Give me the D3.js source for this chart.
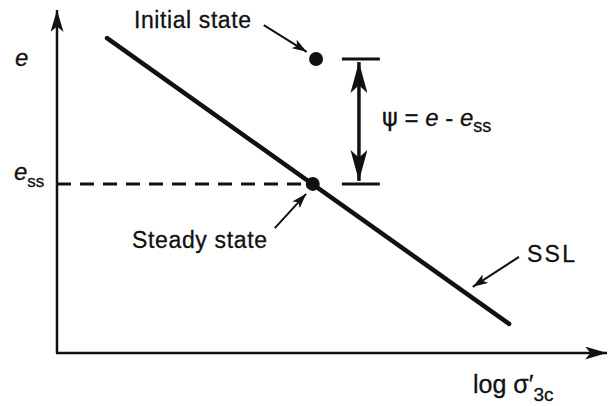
<!DOCTYPE html>
<html><head><meta charset="utf-8">
<script src="https://cdn.jsdelivr.net/npm/d3@7"></script>
<style>
html,body{margin:0;padding:0;background:#fff;}
text{font-family:"Liberation Sans",Arial,Helvetica,sans-serif;fill:#111;stroke:#111;stroke-width:0.3;}
</style></head>
<body>
<svg id="c" width="609" height="406"></svg>
<script>
// conceptual units: x = log σ'3c, y = void ratio e (0..100 arbitrary)
const xDomain = [0, 100];
const yDomain = [0, 100];
const sslX = [9.1, 82.2];
const sslY = [91.8, 8.5];
const pointNames = ["Initial state", "Steady state"];
const pointX = [47.1, 46.5];
const pointY = [85.7, 49.3];
const psiBarX = [51.8, 58.7];
const psiArrowX = 54.9;
// annotation arrows: [tailX, tailY, headX, headY]
const annoNames = ["Initial state", "Steady state", "SSL"];
const annoTail = [[37.6, 95.6], [39.6, 36.4], [84.0, 28.0]];
const annoHead = [[45.4, 87.8], [45.3, 46.4], [75.6, 19.3]];

const svg = d3.select("#c");
const x = d3.scaleLinear().domain(xDomain).range([57, 607]);
const y = d3.scaleLinear().domain(yDomain).range([353, 10]);

const defs = svg.append("defs");
function marker(id, len, wid) {
  defs.append("marker").attr("id", id)
    .attr("viewBox", `0 ${-wid/2} ${len} ${wid}`)
    .attr("refX", len).attr("refY", 0)
    .attr("markerWidth", len).attr("markerHeight", wid)
    .attr("markerUnits", "userSpaceOnUse")
    .attr("orient", "auto-start-reverse")
    .append("path")
    .attr("d", `M0,${-wid/2}L${len},0L0,${wid/2}L${len*0.25},0Z`)
    .attr("fill", "#111");
}
marker("axArr", 22, 13);
marker("psiArr", 31, 17);
marker("smallArr", 15, 10);

// axes
svg.append("line").attr("x1", x(0)).attr("y1", y(0)).attr("x2", x(0)).attr("y2", y(100))
  .attr("stroke", "#111").attr("stroke-width", 2.5).attr("marker-end", "url(#axArr)");
svg.append("line").attr("x1", x(0)-1).attr("y1", y(0)).attr("x2", x(100)).attr("y2", y(0))
  .attr("stroke", "#111").attr("stroke-width", 2.5).attr("marker-end", "url(#axArr)");

// dashed e_ss line
svg.append("line").attr("x1", x(0)).attr("y1", y(pointY[1])).attr("x2", x(pointX[1])).attr("y2", y(pointY[1]))
  .attr("stroke", "#111").attr("stroke-width", 3).attr("stroke-dasharray", "14,9");

// SSL
svg.append("line").attr("x1", x(sslX[0])).attr("y1", y(sslY[0])).attr("x2", x(sslX[1])).attr("y2", y(sslY[1]))
  .attr("stroke", "#111").attr("stroke-width", 4.5).attr("stroke-linecap", "round");

// points
svg.selectAll("circle.pt").data(pointNames).join("circle").attr("class", "pt")
  .attr("cx", (d, i) => x(pointX[i])).attr("cy", (d, i) => y(pointY[i])).attr("r", 7).attr("fill", "#111");

// psi bracket
pointY.forEach(v => {
  svg.append("line").attr("x1", x(psiBarX[0])).attr("x2", x(psiBarX[1])).attr("y1", y(v)).attr("y2", y(v))
    .attr("stroke", "#111").attr("stroke-width", 3);
});
svg.append("line").attr("x1", x(psiArrowX)).attr("x2", x(psiArrowX))
  .attr("y1", y(pointY[0]) + 3).attr("y2", y(pointY[1]) - 3)
  .attr("stroke", "#111").attr("stroke-width", 3.5)
  .attr("marker-start", "url(#psiArr)").attr("marker-end", "url(#psiArr)");

// annotation arrows
annoNames.forEach((n, i) => {
  svg.append("line").attr("x1", x(annoTail[i][0])).attr("y1", y(annoTail[i][1]))
    .attr("x2", x(annoHead[i][0])).attr("y2", y(annoHead[i][1]))
    .attr("stroke", "#111").attr("stroke-width", 2).attr("marker-end", "url(#smallArr)");
});

// texts
const fs = 23;
svg.append("text").attr("x", 134).attr("y", 28).attr("font-size", fs).attr("textLength", 117).text("Initial state");
svg.append("text").attr("x", 132).attr("y", 248).attr("font-size", fs).attr("textLength", 135).text("Steady state");
svg.append("text").attr("x", 527).attr("y", 262).attr("font-size", fs).attr("textLength", 48).text("SSL");

svg.append("text").attr("x", 15).attr("y", 66).attr("font-size", 24).attr("font-style", "italic").text("e");
const ess = svg.append("text").attr("x", 14).attr("y", 180).attr("font-size", 24);
ess.append("tspan").attr("font-style", "italic").text("e");
ess.append("tspan").attr("font-size", 17).attr("dy", 7).text("ss");

const psi = svg.append("text").attr("x", 382).attr("y", 126).attr("font-size", 24);
psi.append("tspan").attr("font-family", "DejaVu Sans").text("ψ");
psi.append("tspan").text(" = ");
psi.append("tspan").attr("font-style", "italic").text("e");
psi.append("tspan").text("  - ");
psi.append("tspan").attr("font-style", "italic").text("e");
psi.append("tspan").attr("font-size", 18).attr("dy", 6).text("ss");

const lg = svg.append("text").attr("x", 473).attr("y", 393).attr("font-size", 25);
lg.append("tspan").text("log σ′");
lg.append("tspan").attr("font-size", 19).attr("dy", 8).text("3c");
</script>
</body></html>
